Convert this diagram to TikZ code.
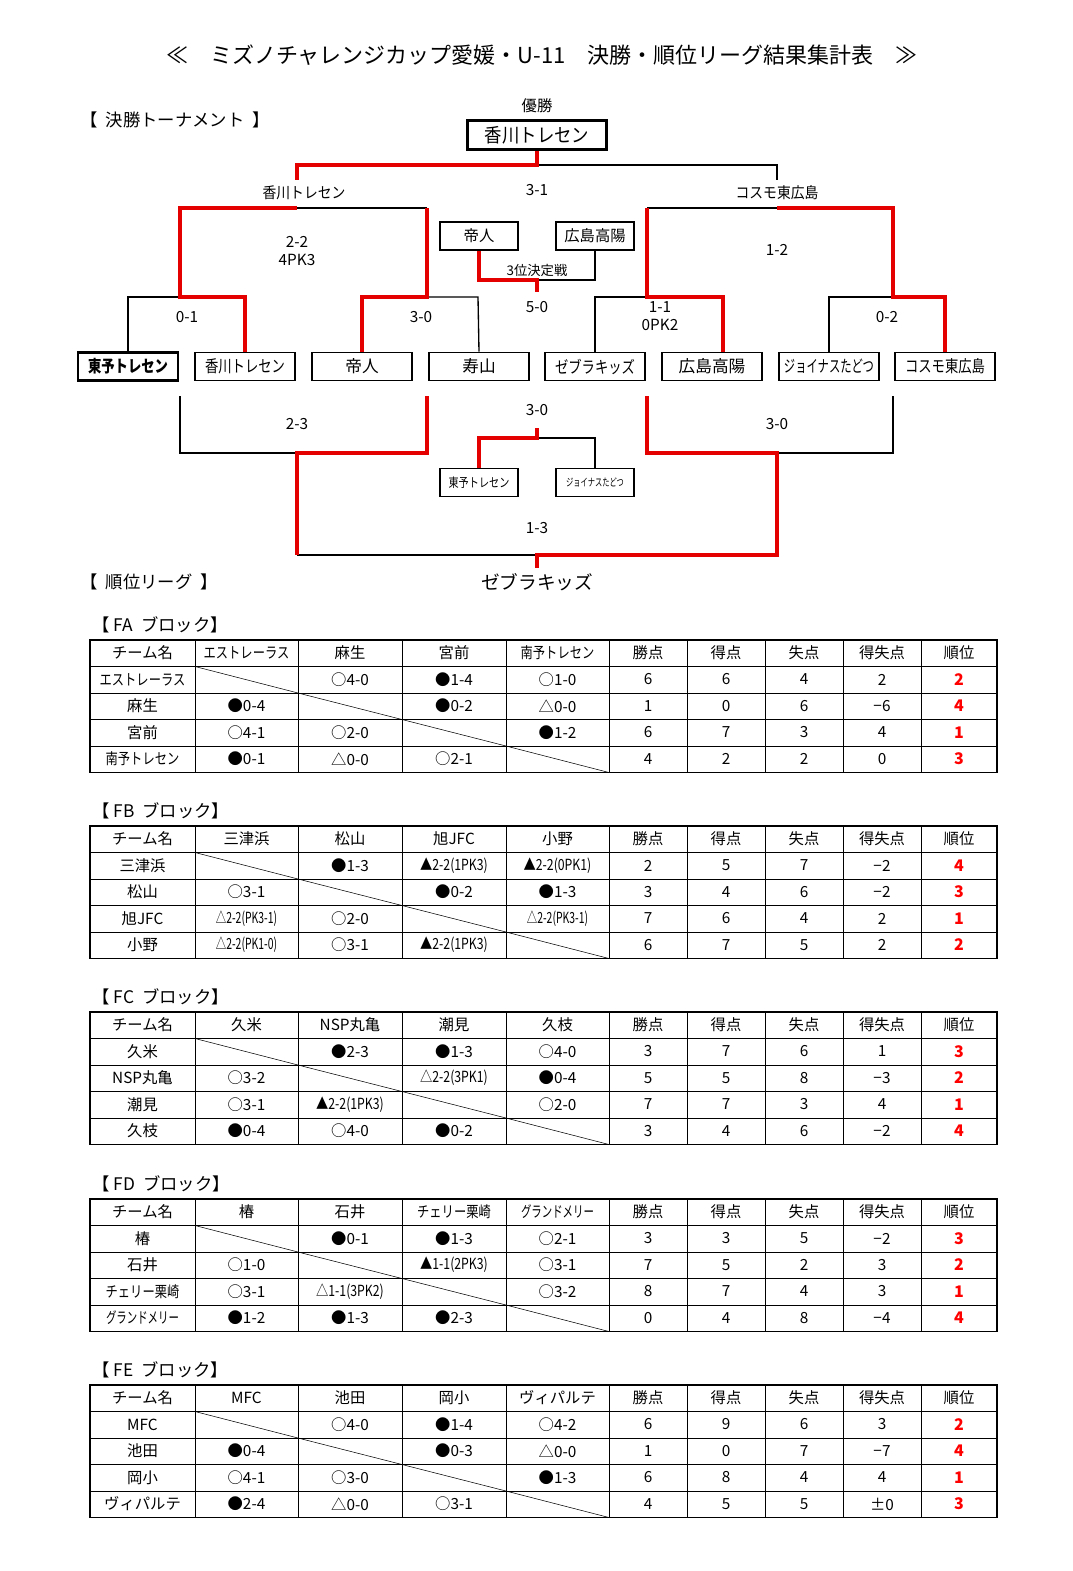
\documentclass[tikz,border=0pt]{standalone}
\usepackage{fontspec}
\setmainfont{Noto Sans CJK JP}
\newcommand\sm[1]{\scalebox{0.8}[1]{#1}}
\newcommand\xs[1]{\scalebox{0.68}[1]{#1}}
\newcommand\tblframe[6]{%
 \node[anchor=west,font=\fontsize{13}{15}\selectfont] at (88,{#1-15}) {【\ #2\ \ ブロック】};
 \foreach \k in {2,3,4} \draw[thin] (90,{#1+26.5*\k}) -- (997,{#1+26.5*\k});
 \draw[line width=1pt] (90,{#1+26.5}) -- (997,{#1+26.5});
 \foreach \x in {195,298,402,506,609,687,765,843,921} \draw[thin] (\x,#1) -- (\x,{#1+132.5});
 \draw[line width=1.4pt] (90,#1) rectangle (997,{#1+132.5});
 \foreach \k/\a/\b in {1/195/298,2/298/402,3/402/506,4/506/609} \draw[thin] (\a,{#1+26.5*\k}) -- (\b,{#1+26.5*(\k+1)});
 \node[cell] at (142.5,{#1+13}) {チーム名};
 \node[cell] at (246.5,{#1+13}) {#3};
 \node[cell] at (350,{#1+13}) {#4};
 \node[cell] at (454,{#1+13}) {#5};
 \node[cell] at (557.5,{#1+13}) {#6};
 \node[cell] at (648,{#1+13}) {勝点};
 \node[cell] at (726,{#1+13}) {得点};
 \node[cell] at (804,{#1+13}) {失点};
 \node[cell] at (882,{#1+13}) {得失点};
 \node[cell] at (959,{#1+13}) {順位};
}
\newcommand\trowA[7]{%
 \node[cell] at (142.5,{#1+26.5*#2+13}) {#3};
 \node[cell] at (246.5,{#1+26.5*#2+13}) {#4};
 \node[cell] at (350,{#1+26.5*#2+13}) {#5};
 \node[cell] at (454,{#1+26.5*#2+13}) {#6};
 \node[cell] at (557.5,{#1+26.5*#2+13}) {#7};
}
\newcommand\trowB[7]{%
 \node[cell] at (648,{#1+26.5*#2+13}) {#3};
 \node[cell] at (726,{#1+26.5*#2+13}) {#4};
 \node[cell] at (804,{#1+26.5*#2+13}) {#5};
 \node[cell] at (882,{#1+26.5*#2+13}) {#6};
 \node[cell,text=red,font=\fontsize{12}{14}\selectfont\bfseries] at (959,{#1+26.5*#2+13}) {#7};
}
\begin{document}
\begin{tikzpicture}[x=0.75pt,y=-0.75pt,
 cell/.style={inner sep=0pt,font=\fontsize{11.5}{13}\selectfont},
 lbl/.style={inner sep=0pt,font=\fontsize{11.5}{13}\selectfont},
 tbox/.style={draw,line width=1.3pt,minimum width=75pt,minimum height=21pt,inner sep=0pt,font=\fontsize{12.5}{14}\selectfont},
 sbox/.style={draw,line width=1.3pt,minimum width=58pt,minimum height=21pt,inner sep=0pt,font=\fontsize{11.5}{13}\selectfont},
 bk/.style={line width=1pt},
 rd/.style={line width=3.2pt,red!90!black}]
\useasboundingbox (0,0) rectangle (1073,1571);
\fill[white] (0,0) rectangle (1073,1571);
\node[font=\fontsize{16.5}{19}\selectfont] (title) at (542,55) {≪　ミズノチャレンジカップ愛媛・U-11　決勝・順位リーグ結果集計表　≫};
\node[font=\fontsize{13}{15}\selectfont,anchor=west] (h1) at (76,120) {【\ \ 決勝トーナメント\ \ 】};
\node[font=\fontsize{13}{15}\selectfont,anchor=west] (h2) at (76,582) {【\ \ 順位リーグ\ \ 】};
% champion
\node[lbl] (yusho) at (537,106) {優勝};
\node[draw,line width=2.6pt,minimum width=104pt,minimum height=22pt,font=\fontsize{14.5}{16}\selectfont] (champ) at (537,135) {\scalebox{0.9}[1]{香川トレセン}};
% bottom row boxes
\node[tbox,line width=2.2pt,font=\fontsize{12.5}{14}\selectfont\bfseries] (b1) at (128,366.5) {\sm{東予トレセン}};
\node[tbox] (b2) at (245,366.5) {\sm{香川トレセン}};
\node[tbox] (b3) at (362,366.5) {帝人};
\node[tbox] (b4) at (479,366.5) {寿山};
\node[tbox] (b5) at (595,366.5) {\sm{ゼブラキッズ}};
\node[tbox] (b6) at (712,366.5) {広島高陽};
\node[tbox] (b7) at (829,366.5) {\xs{ジョイナスたどつ}};
\node[tbox] (b8) at (945,366.5) {\sm{コスモ東広島}};
% third place boxes
\node[sbox] (t1) at (479,236) {帝人};
\node[sbox] (t2) at (595,236) {広島高陽};
\node[sbox,font=\fontsize{9.5}{10}\selectfont] (t3) at (479,482.5) {\sm{東予トレセン}};
\node[sbox,font=\fontsize{8}{8}\selectfont] (t4) at (595,482.5) {\xs{ジョイナスたどつ}};
% black lines
\draw[bk] (537,165) -- (777,165) -- (777,180);
\draw[bk] (297,208) -- (427,208);
\draw[bk] (647,208) -- (777,208);
\draw[bk] (b1.north) -- (128,297) -- (180,297);
\draw[bk] (427,297) -- (478,297) -- (b4.north);
\draw[bk] (b5.north) -- (595,297) -- (647,297);
\draw[bk] (b7.north) -- (829,297) -- (893,297);
\draw[bk] (t2.south) -- (595,280) -- (537,280);
\draw[bk] (180,396) -- (180,453) -- (297,453);
\draw[bk] (777,453) -- (893,453) -- (893,396);
\draw[bk] (297,555) -- (537,555);
\draw[bk] (537,438) -- (595,438) -- (t4.north);
% red lines
\draw[rd] (champ.south) -- (537,165) -- (297,165) -- (297,180);
\draw[rd] (297,208) -- (180,208) -- (180,297) -- (245,297) -- (b2.north);
\draw[rd] (427,208) -- (427,297) -- (362,297) -- (b3.north);
\draw[rd] (777,208) -- (893,208) -- (893,297) -- (945,297) -- (b8.north);
\draw[rd] (647,208) -- (647,297) -- (723,297) -- (723,352);
\draw[rd] (t1.south) -- (479,280) -- (537,280) -- (537,292);
\draw[rd] (427,396) -- (427,453) -- (297,453) -- (297,555);
\draw[rd] (647,396) -- (647,453) -- (777,453) -- (777,555) -- (537,555) -- (537,568);
\draw[rd] (537,428) -- (537,438) -- (479,438) -- (t3.north);
% labels
\node[lbl] (w1) at (304,193) {\scalebox{0.9}[1]{香川トレセン}};
\node[lbl] (w2) at (777,193) {\scalebox{0.9}[1]{コスモ東広島}};
\node[lbl] at (537,190) {3-1};
\node[lbl,align=center] at (297,251) {2-2\\4PK3};
\node[lbl] at (777,250) {1-2};
\node[lbl] at (187,317) {0-1};
\node[lbl] at (421,317) {3-0};
\node[lbl,align=center] at (660,316) {1-1\\0PK2};
\node[lbl] at (887,317) {0-2};
\node[lbl,font=\fontsize{10}{12}\selectfont] at (537,270) {3位決定戦};
\node[lbl] at (537,307) {5-0};
\node[lbl] at (537,410) {3-0};
\node[lbl] at (297,424) {2-3};
\node[lbl] at (777,424) {3-0};
\node[lbl] at (537,528) {1-3};
\node[font=\fontsize{14}{16}\selectfont] (win) at (537,582) {ゼブラキッズ};
% FA
\def\T{640}
\tblframe{\T}{FA}{\sm{エストレーラス}}{麻生}{宮前}{\sm{南予トレセン}}
\trowA{\T}{1}{\sm{エストレーラス}}{}{○4-0}{●1-4}{○1-0}\trowB{\T}{1}{6}{6}{4}{2}{2}
\trowA{\T}{2}{麻生}{●0-4}{}{●0-2}{△0-0}\trowB{\T}{2}{1}{0}{6}{−6}{4}
\trowA{\T}{3}{宮前}{○4-1}{○2-0}{}{●1-2}\trowB{\T}{3}{6}{7}{3}{4}{1}
\trowA{\T}{4}{\sm{南予トレセン}}{●0-1}{△0-0}{○2-1}{}\trowB{\T}{4}{4}{2}{2}{0}{3}
% FB
\def\T{826}
\tblframe{\T}{FB}{三津浜}{松山}{旭JFC}{小野}
\trowA{\T}{1}{三津浜}{}{●1-3}{\sm{▲2-2(1PK3)}}{\sm{▲2-2(0PK1)}}\trowB{\T}{1}{2}{5}{7}{−2}{4}
\trowA{\T}{2}{松山}{○3-1}{}{●0-2}{●1-3}\trowB{\T}{2}{3}{4}{6}{−2}{3}
\trowA{\T}{3}{旭JFC}{\xs{△2-2(PK3-1)}}{○2-0}{}{\xs{△2-2(PK3-1)}}\trowB{\T}{3}{7}{6}{4}{2}{1}
\trowA{\T}{4}{小野}{\xs{△2-2(PK1-0)}}{○3-1}{\sm{▲2-2(1PK3)}}{}\trowB{\T}{4}{6}{7}{5}{2}{2}
% FC
\def\T{1012}
\tblframe{\T}{FC}{久米}{NSP丸亀}{潮見}{久枝}
\trowA{\T}{1}{久米}{}{●2-3}{●1-3}{○4-0}\trowB{\T}{1}{3}{7}{6}{1}{3}
\trowA{\T}{2}{NSP丸亀}{○3-2}{}{\sm{△2-2(3PK1)}}{●0-4}\trowB{\T}{2}{5}{5}{8}{−3}{2}
\trowA{\T}{3}{潮見}{○3-1}{\sm{▲2-2(1PK3)}}{}{○2-0}\trowB{\T}{3}{7}{7}{3}{4}{1}
\trowA{\T}{4}{久枝}{●0-4}{○4-0}{●0-2}{}\trowB{\T}{4}{3}{4}{6}{−2}{4}
% FD
\def\T{1199}
\tblframe{\T}{FD}{椿}{石井}{\sm{チェリー栗崎}}{\xs{グランドメリー}}
\trowA{\T}{1}{椿}{}{●0-1}{●1-3}{○2-1}\trowB{\T}{1}{3}{3}{5}{−2}{3}
\trowA{\T}{2}{石井}{○1-0}{}{\sm{▲1-1(2PK3)}}{○3-1}\trowB{\T}{2}{7}{5}{2}{3}{2}
\trowA{\T}{3}{\sm{チェリー栗崎}}{○3-1}{\sm{△1-1(3PK2)}}{}{○3-2}\trowB{\T}{3}{8}{7}{4}{3}{1}
\trowA{\T}{4}{\xs{グランドメリー}}{●1-2}{●1-3}{●2-3}{}\trowB{\T}{4}{0}{4}{8}{−4}{4}
% FE
\def\T{1385}
\tblframe{\T}{FE}{MFC}{池田}{岡小}{ヴィパルテ}
\trowA{\T}{1}{MFC}{}{○4-0}{●1-4}{○4-2}\trowB{\T}{1}{6}{9}{6}{3}{2}
\trowA{\T}{2}{池田}{●0-4}{}{●0-3}{△0-0}\trowB{\T}{2}{1}{0}{7}{−7}{4}
\trowA{\T}{3}{岡小}{○4-1}{○3-0}{}{●1-3}\trowB{\T}{3}{6}{8}{4}{4}{1}
\trowA{\T}{4}{ヴィパルテ}{●2-4}{△0-0}{○3-1}{}\trowB{\T}{4}{4}{5}{5}{±0}{3}
\end{tikzpicture}
\end{document}
